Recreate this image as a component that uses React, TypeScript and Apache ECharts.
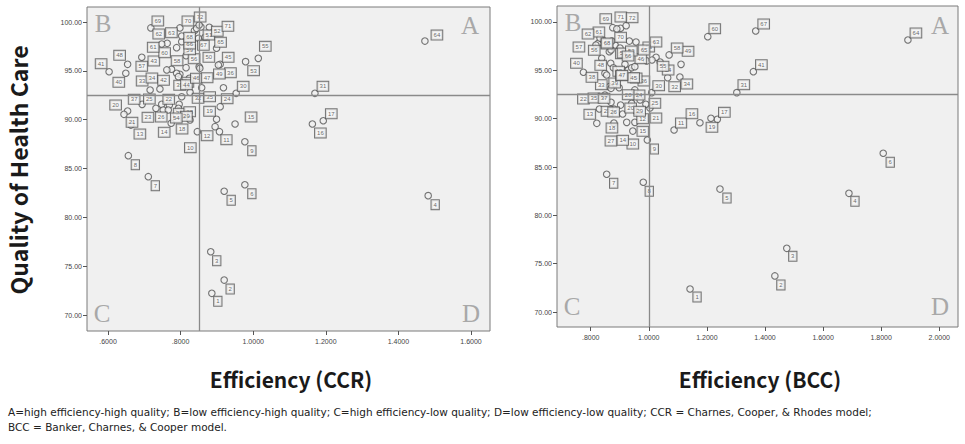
import React, { useEffect, useRef } from "react";
import * as echarts from "echarts";

// ---------- DATA ----------
const hospitalIds = [
  1, 2, 3, 4, 5, 6, 7, 8, 9, 10, 11, 12, 13, 14, 15, 16, 17, 18, 19, 20, 21, 22, 23, 24,
  25, 26, 27, 28, 29, 30, 31, 32, 33, 34, 35, 36, 37, 38, 39, 40, 41, 42, 43, 44, 45, 46, 47, 48,
  49, 50, 51, 52, 53, 54, 55, 56, 57, 58, 59, 60, 61, 62, 63, 64, 65, 66, 67, 68, 69, 70, 71, 72,
];

const ccrEfficiency = [
  0.886, 0.92, 0.883, 1.482, 0.92, 0.977, 0.711, 0.656, 0.977, 0.846,
  0.907, 0.895, 0.663, 0.774, 0.95, 1.163, 1.193, 0.826, 0.899, 0.654,
  0.644, 0.748, 0.732, 0.909, 0.769, 0.752, 0.796, 0.803, 0.794, 0.953,
  1.17, 0.826, 0.716, 0.743, 0.858, 0.918, 0.694, 0.798, 0.789, 0.649,
  0.603, 0.775, 0.762, 0.794, 0.909, 0.824, 0.851, 0.654, 0.904, 0.853,
  0.856, 0.879, 0.979, 0.766, 1.014, 0.815, 0.693, 0.815, 0.803, 0.789,
  0.763, 0.748, 0.838, 1.473, 0.899, 0.803, 0.849, 0.844, 0.718, 0.798,
  0.867, 0.851,
];
const ccrQuality = [
  72.22, 73.58, 76.48, 82.22, 82.67, 83.34, 84.16, 86.31, 87.74, 88.77,
  88.77, 89.28, 89.45, 89.63, 89.56, 89.56, 89.89, 89.97, 90.04, 90.89,
  90.55, 91.57, 91.16, 91.33, 91.5, 90.99, 91.57, 92.35, 91.16, 92.7,
  92.7, 92.8, 93.04, 93.14, 93.27, 93.27, 91.57, 94.65, 94.75, 94.75,
  94.91, 95.16, 95.09, 94.4, 95.67, 94.24, 95.42, 95.67, 95.6, 95.26,
  99.49, 99.46, 95.94, 90.99, 96.28, 95.32, 96.39, 96.55, 97.98, 97.37,
  97.82, 97.75, 99.11, 98.05, 97.31, 98.57, 98.33, 99.35, 99.39, 99.39,
  98.43, 99.69,
];

const bccEfficiency = [
  1.142, 1.434, 1.475, 1.689, 1.245, 1.807, 0.855, 0.981, 0.995, 0.945,
  1.087, 0.958, 0.821, 0.924, 0.952, 1.176, 1.236, 0.88, 1.214, 0.91,
  1.004, 0.83, 0.87, 0.97, 0.99, 0.903, 0.88, 0.898, 0.941, 1.01,
  1.303, 1.065, 0.864, 1.107, 0.849, 0.952, 0.87, 0.849, 0.855, 0.775,
  1.36, 0.869, 0.878, 0.929, 0.941, 0.952, 0.918, 0.838, 1.111, 0.864,
  0.884, 0.933, 0.993, 1.039, 1.025, 0.826, 0.818, 1.07, 0.873, 1.203,
  0.842, 0.832, 1.011, 1.892, 0.956, 0.901, 1.368, 0.87, 0.876, 0.903,
  0.89, 0.922,
];
const bccQuality = [
  72.38, 73.73, 76.59, 82.28, 82.72, 86.42, 84.25, 83.42, 87.79, 88.72,
  88.83, 90.72, 89.52, 89.62, 89.62, 89.58, 89.93, 91.0, 90.04, 90.48,
  91.1, 91.0, 91.69, 91.93, 91.49, 91.41, 89.55, 93.2, 91.59, 92.69,
  92.69, 94.24, 93.31, 94.31, 92.45, 92.97, 93.14, 94.69, 94.52, 94.8,
  94.86, 95.73, 95.27, 95.03, 95.27, 95.38, 95.62, 96.24, 95.62, 96.93,
  97.62, 98.03, 95.97, 95.86, 96.35, 97.8, 97.62, 96.59, 98.03, 98.48,
  98.14, 98.34, 96.07, 98.14, 97.93, 97.31, 99.07, 97.1, 99.41, 99.35,
  99.28, 99.62,
];

// reference (cut-off) lines
const ccrCutEfficiency = 0.85;
const bccCutEfficiency = 1.005;
const cutQuality = 92.5;

// tick values
const qualityTicks = [70, 75, 80, 85, 90, 95, 100];
const ccrTicks = [0.6, 0.8, 1.0, 1.2, 1.4, 1.6];
const bccTicks = [0.8, 1.0, 1.2, 1.4, 1.6, 1.8, 2.0];

// ---------- LAYOUT (label box offsets in px, not data) ----------
const ccrLabelOffsets = [
  [6, 8], [6, 9], [6, 9], [7, 9], [7, 9], [7, 9], [7, 9], [7, 9], [7, 9], [-7, 16],
  [7, 8], [-8, 9], [9, 9], [-7, 9], [16, -7], [8, 9], [8, -7], [-8, 9], [-7, -8], [-12, -6],
  [8, 8], [7, -5], [-8, 9], [7, -8], [-20, -6], [-2, 7], [0, 9], [8, 15], [8, 8], [7, -7],
  [8, -7], [8, 6], [-8, -9], [-8, -11], [8, 9], [7, -15], [-8, -5], [8, 8], [3, 12], [-7, 9],
  [-8, -8], [-8, 11], [-13, -9], [8, 8], [8, -7], [7, 0], [8, 11], [-8, -9], [1, 9], [9, -11],
  [8, 8], [8, 4], [8, 9], [8, 8], [7, -12], [8, -9], [0, 9], [-9, 5], [8, 8], [-12, 5],
  [-14, 4], [-3, -10], [-23, 2], [12, -6], [4, -6], [8, 8], [5, 7], [-7, 9], [7, -7], [8, -7],
  [23, -11], [1, -8],
];
const bccLabelOffsets = [
  [7, 8], [6, 9], [6, 8], [6, 8], [7, 9], [7, 9], [7, 9], [6, 9], [7, 9], [0, 13],
  [7, -7], [6, 7], [-7, -9], [-4, 18], [8, 9], [-8, -9], [7, -7], [-2, 19], [1, 9], [8, -6],
  [6, 10], [-16, -10], [-4, 9], [-1, -5], [9, -1], [-7, 7], [-3, 18], [9, 7], [8, 8], [7, -7],
  [7, -8], [7, 9], [-8, -2], [7, 7], [-11, 3], [9, -9], [-7, 10], [-13, 4], [8, 8], [-7, -9],
  [8, -7], [8, 8], [8, 8], [8, 8], [2, 10], [6, -8], [-3, 11], [-1, 7], [7, -13], [12, 2],
  [8, 8], [2, 10], [2, -14], [8, 8], [7, 9], [-4, 7], [-17, 2], [8, -7], [-5, 3], [7, -8],
  [-4, -8], [-12, -4], [4, -18], [8, -7], [8, 8], [8, 8], [8, -7], [-4, -7], [-7, -9], [0, 9],
  [4, -12], [6, -8],
];

const FRAME_BG = "#f0f0f0";
const FRAME_BORDER = "#7a7a7a";
const TITLE_FONT = "'Noto Sans CJK KR', 'Noto Sans', sans-serif";

function buildPoints(eff: number[], qual: number[], offsets: number[][]) {
  return hospitalIds.map((id, i) => ({
    name: String(id),
    value: [eff[i], qual[i]],
    label: { offset: offsets[i] },
  }));
}

function xFmt(v: number) {
  const s = v.toFixed(4);
  return s.startsWith("0") ? s.slice(1) : s;
}

function makeXAxis(gridIndex: number, min: number, max: number, ticks: number[]) {
  return {
    type: "value",
    gridIndex,
    min,
    max,
    axisLine: { show: false },
    splitLine: { show: false },
    axisTick: { show: true, customValues: ticks, length: 4, lineStyle: { color: "#555" } },
    axisLabel: {
      customValues: ticks,
      formatter: (v: number) => xFmt(v),
      fontSize: 7,
      color: "#444",
      margin: 7,
      fontFamily: "Liberation Sans",
    },
  };
}

function makeYAxis(gridIndex: number, min: number, max: number) {
  return {
    type: "value",
    gridIndex,
    min,
    max,
    axisLine: { show: false },
    splitLine: { show: false },
    axisTick: { show: true, customValues: qualityTicks, length: 4, lineStyle: { color: "#555" } },
    axisLabel: {
      customValues: qualityTicks,
      formatter: (v: number) => v.toFixed(2),
      fontSize: 7,
      color: "#444",
      margin: 5,
      fontFamily: "Liberation Sans",
    },
  };
}

function makeSeries(idx: number, data: any[], cutX: number) {
  return {
    type: "scatter",
    xAxisIndex: idx,
    yAxisIndex: idx,
    clip: false,
    symbol: "circle",
    symbolSize: 6.5,
    itemStyle: { color: FRAME_BG, borderColor: "#555", borderWidth: 1.1 },
    label: {
      show: true,
      position: "inside",
      formatter: "{b}",
      fontSize: 6,
      color: "#444",
      fontFamily: "Liberation Sans",
      borderColor: "#555",
      borderWidth: 1,
      padding: [2, 2, 1, 2],
      backgroundColor: "#f5f5f5",
    },
    emphasis: { disabled: true },
    data,
    markLine: {
      silent: true,
      symbol: "none",
      label: { show: false },
      lineStyle: { color: "#8a8a8a", width: 1.3, type: "solid" },
      data: [{ xAxis: cutX }, { yAxis: cutQuality }],
    },
  };
}

function letter(text: string, x: number, y: number) {
  return {
    type: "text",
    x,
    y,
    z: 1,
    style: {
      text,
      fill: "#a8a8a8",
      font: "25px 'Liberation Serif', 'DejaVu Serif', serif",
      align: "center",
      verticalAlign: "middle",
    },
  };
}

function title(text: string, x: number, y: number, size: number, rotation = 0) {
  return {
    type: "text",
    x,
    y,
    rotation,
    style: {
      text,
      fill: "#1a1a1a",
      font: `bold ${size}px ${TITLE_FONT}`,
      align: "center",
      verticalAlign: "middle",
    },
  };
}

function note(text: string, y: number) {
  return {
    type: "text",
    x: 8,
    y,
    style: {
      text,
      fill: "#222",
      font: "10.5px 'DejaVu Sans', sans-serif",
      align: "left",
      verticalAlign: "middle",
    },
  };
}

export default function App() {
  const ref = useRef<HTMLDivElement>(null);
  useEffect(() => {
    if (!ref.current) return;
    const chart = echarts.init(ref.current, null, { renderer: "svg" });
    const option: any = {
      animation: false,
      backgroundColor: "#ffffff",
      grid: [
        { left: 87, top: 7, width: 403, height: 324, show: true, backgroundColor: FRAME_BG, borderColor: FRAME_BORDER, borderWidth: 1 },
        { left: 557, top: 6, width: 401, height: 321, show: true, backgroundColor: FRAME_BG, borderColor: FRAME_BORDER, borderWidth: 1 },
      ],
      xAxis: [makeXAxis(0, 0.5421, 1.6523, ccrTicks), makeXAxis(1, 0.684, 2.0644, bccTicks)],
      yAxis: [makeYAxis(0, 68.363, 101.536), makeYAxis(1, 68.449, 101.655)],
      series: [
        makeSeries(0, buildPoints(ccrEfficiency, ccrQuality, ccrLabelOffsets), ccrCutEfficiency),
        makeSeries(1, buildPoints(bccEfficiency, bccQuality, bccLabelOffsets), bccCutEfficiency),
      ],
      graphic: [
        letter("B", 103, 23),
        letter("A", 470, 25),
        letter("C", 102, 313),
        letter("D", 471, 313),
        letter("B", 573, 22),
        letter("A", 940, 25),
        letter("C", 572, 306),
        letter("D", 940, 306),
        title("Quality of Health Care", 18, 170, 23, Math.PI / 2),
        title("Efficiency (CCR)", 291, 379, 21),
        title("Efficiency (BCC)", 760, 379, 21),
        note(
          "A=high efficiency-high quality; B=low efficiency-high quality; C=high efficiency-low quality; D=low efficiency-low quality; CCR = Charnes, Cooper, & Rhodes model;",
          412
        ),
        note("BCC = Banker, Charnes, & Cooper model.", 427),
      ],
    };
    chart.setOption(option);
    return () => chart.dispose();
  }, []);
  return (
    <div
      ref={ref}
      style={{ position: "fixed", left: 0, top: 0, width: 965, height: 444, background: "#fff" }}
    />
  );
}
